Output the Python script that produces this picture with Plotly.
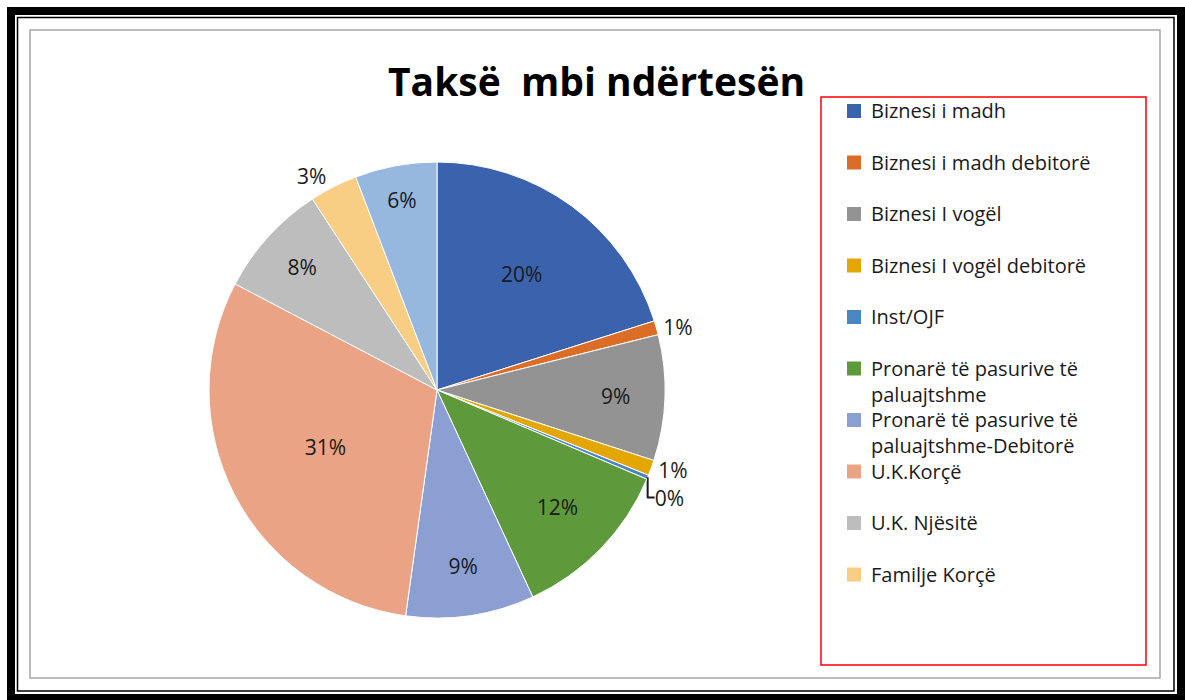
import plotly.graph_objects as go

# ---- data ----
labels = [
    "Biznesi i madh",
    "Biznesi i madh debitorë",
    "Biznesi I vogël",
    "Biznesi I vogël debitorë",
    "Inst/OJF",
    "Pronarë të pasurive të paluajtshme",
    "Pronarë të pasurive të paluajtshme-Debitorë",
    "U.K.Korçë",
    "U.K. Njësitë",
    "Familje Korçë",
    "Familje Njësitë",
]
legend_labels = [
    "Biznesi i madh",
    "Biznesi i madh debitorë",
    "Biznesi I vogël",
    "Biznesi I vogël debitorë",
    "Inst/OJF",
    "Pronarë të pasurive të<br>paluajtshme",
    "Pronarë të pasurive të<br>paluajtshme-Debitorë",
    "U.K.Korçë",
    "U.K. Njësitë",
    "Familje Korçë",
]
values = [20.1, 1.0, 8.9, 1.1, 0.3, 11.7, 9.1, 30.5, 8.1, 3.4, 5.8]
colors = ["#3b62ad", "#dc6d26", "#939393", "#e3a602", "#4a87c2", "#5e9a3c",
          "#8c9fd3", "#eba385", "#bdbdbd", "#f8cd84", "#96b7de"]
text_pos = ["inside", "outside", "inside", "outside", "outside", "inside",
            "inside", "inside", "inside", "outside", "inside"]
title_text = "Taksë  mbi ndërtesën"

W, H = 1185, 700
def px(x):
    return x / W
def py(y):
    return 1 - y / H

FONT = "Open Sans"

fig = go.Figure()
# pie placement (pixels)
cx, cy, r = 437, 390, 228
fig.add_trace(go.Pie(
    labels=labels,
    values=values,
    sort=False,
    direction="clockwise",
    rotation=0,
    marker=dict(colors=colors, line=dict(color="white", width=1)),
    texttemplate="%{percent:.0%}",
    textposition=text_pos,
    insidetextorientation="horizontal",
    textfont=dict(family=FONT, size=21, color="#1a1a1a"),
    showlegend=False,
    hoverinfo="label+percent",
    domain=dict(x=[px(cx - r), px(cx + r)], y=[py(cy + r), py(cy - r)]),
))

shapes = [
    dict(type="rect", xref="paper", yref="paper", x0=px(11), y0=py(11), x1=px(1181), y1=py(698),
         line=dict(color="black", width=8), layer="below"),
    dict(type="rect", xref="paper", yref="paper", x0=px(17.5), y0=py(17.5), x1=px(1174), y1=py(691),
         line=dict(color="black", width=1.5), layer="below"),
    dict(type="rect", xref="paper", yref="paper", x0=px(30), y0=py(30), x1=px(1160), y1=py(678),
         line=dict(color="#a6a6a6", width=1.5), layer="below"),
    dict(type="rect", xref="paper", yref="paper", x0=px(821), y0=py(97), x1=px(1146), y1=py(665),
         line=dict(color="#ff0000", width=1.5), layer="below"),
]
annotations = []
for i, lab in enumerate(legend_labels):
    yc = 111 + i * 51.5
    shapes.append(dict(type="rect", xref="paper", yref="paper",
                       x0=px(847), x1=px(861), y0=py(yc - 7), y1=py(yc + 7),
                       fillcolor=colors[i], line=dict(width=0), layer="above"))
    annotations.append(dict(xref="paper", yref="paper", x=px(869), y=py(yc - 16),
                            xanchor="left", yanchor="top", align="left", showarrow=False,
                            text=lab, font=dict(family=FONT, size=20, color="#1a1a1a")))

annotations.append(dict(xref="paper", yref="paper", x=px(596), y=py(80),
                        xanchor="center", yanchor="middle", showarrow=False,
                        text="<b>" + title_text + "</b>",
                        font=dict(family=FONT, size=39, color="black")))

fig.update_layout(
    width=W, height=H,
    margin=dict(l=0, r=0, t=0, b=0),
    paper_bgcolor="white",
    plot_bgcolor="white",
    shapes=shapes,
    annotations=annotations,
)
fig.write_html("out.html", config={"displayModeBar": False},
               post_script="document.body.style.margin='0';")
